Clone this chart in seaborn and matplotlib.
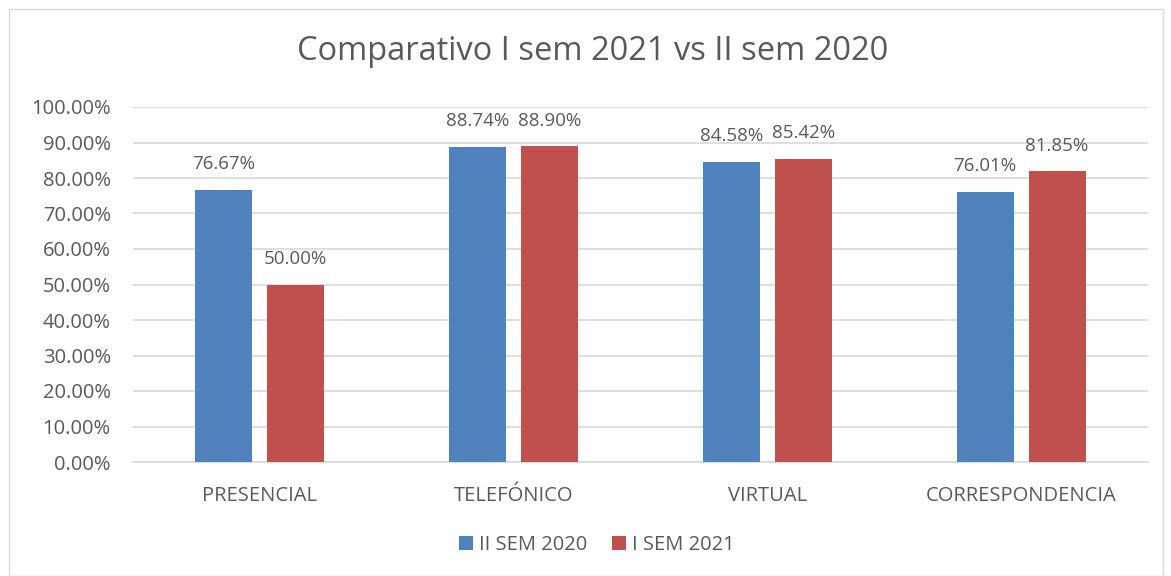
import numpy as np
import pandas as pd
from matplotlib import pyplot as plt
import matplotlib.patches as patches
import seaborn as sns

# Data
canales = ['PRESENCIAL', 'TELEFÓNICO', 'VIRTUAL', 'CORRESPONDENCIA']
sem_2020 = [76.67, 88.74, 84.58, 76.01]
sem_2021 = [50.00, 88.90, 85.42, 81.85]
series = ['II SEM 2020', 'I SEM 2021']
colores = ['#4F81BD', '#C0504D']

df = pd.DataFrame({
    'Canal': canales * 2,
    'Valor': sem_2020 + sem_2021,
    'Serie': [series[0]] * len(canales) + [series[1]] * len(canales),
})

sns.set_style('white')
plt.rcParams['font.family'] = ['Open Sans', 'DejaVu Sans']
texto = '#595959'

fig = plt.figure(figsize=(11.71, 5.76), dpi=100)
ax = fig.add_axes([133 / 1171, 1 - 462 / 576, (1148 - 133) / 1171, (462 - 107) / 576])

sns.barplot(data=df, x='Canal', y='Valor', hue='Serie', palette=colores,
            saturation=1, linewidth=0, width=0.567, gap=0.208, ax=ax, zorder=3)

# Data labels
for cont in ax.containers:
    ax.bar_label(cont, labels=[f'{v:.2f}%' for v in cont.datavalues],
                 padding=12, fontsize=13.5, color=texto)

ax.set_ylim(0, 100)
ax.set_yticks(np.arange(0, 101, 10))
ax.set_yticklabels([f'{v:.2f}%' for v in np.arange(0, 101, 10)], fontsize=14.5, color=texto)
ax.tick_params(axis='x', labelsize=14.5, labelcolor=texto, pad=17, length=0)
ax.tick_params(axis='y', length=0, pad=16)
ax.yaxis.grid(True, color='#D9D9D9', linewidth=1.2, zorder=0)
ax.set_axisbelow(True)
for s in ['top', 'right', 'left']:
    ax.spines[s].set_visible(False)
ax.spines['bottom'].set_color('#D9D9D9')
ax.spines['bottom'].set_linewidth(1.2)
ax.set_xlabel('')
ax.set_ylabel('')

fig.text(593 / 1171, 1 - 52 / 576, 'Comparativo I sem 2021 vs II sem 2020',
         ha='center', va='center', fontsize=23.5, color=texto)

ax.legend(loc='center', bbox_to_anchor=(597 / 1171, 1 - 545 / 576),
          bbox_transform=fig.transFigure,
          ncol=2, frameon=False, fontsize=14.5, labelcolor=texto,
          handlelength=0.7, handleheight=0.7, handletextpad=0.3, columnspacing=1.2)

# Chart frame
fig.patches.append(patches.Rectangle((9 / 1171, 0.0), 1 - 17 / 1171, 1 - 9 / 576,
                                     transform=fig.transFigure, fill=False,
                                     edgecolor='#D9D9D9', linewidth=1))

fig.savefig('out.png', dpi=100)
